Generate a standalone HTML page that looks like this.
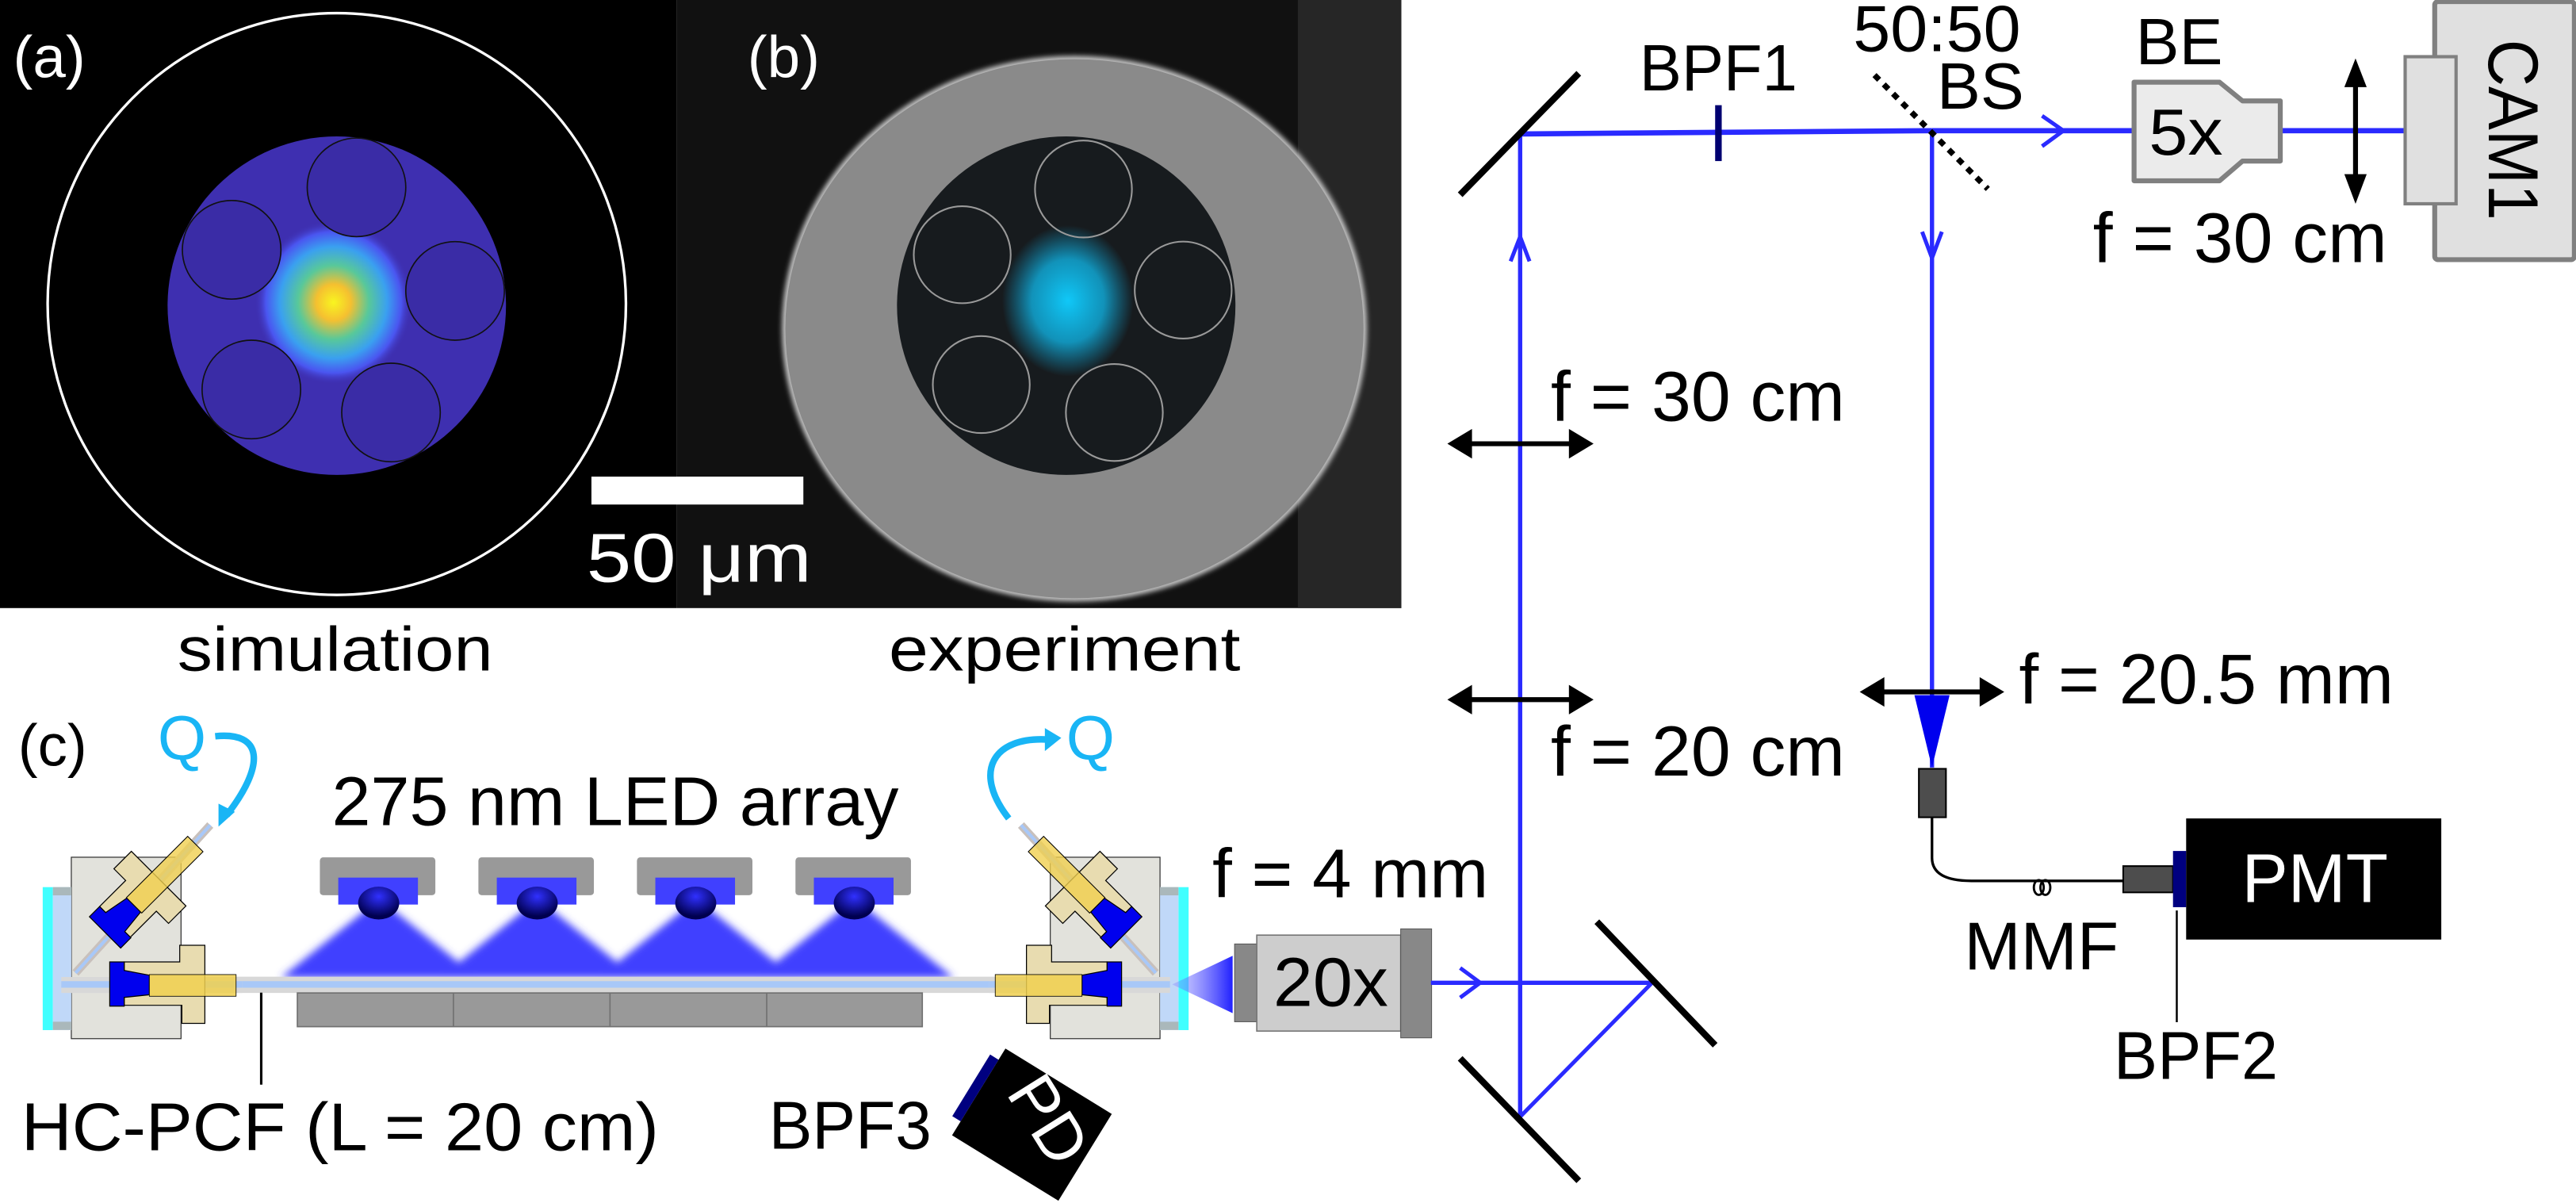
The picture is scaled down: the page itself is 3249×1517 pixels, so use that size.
<!DOCTYPE html>
<html><head><meta charset="utf-8"><style>
html,body{margin:0;padding:0;background:#fff;}
svg{display:block;}
text{font-family:"Liberation Sans",Arial,sans-serif;}
</style></head><body>
<svg width="3249" height="1517" viewBox="0 0 1568 732" preserveAspectRatio="none" xmlns="http://www.w3.org/2000/svg">
<defs>
<radialGradient id="hot" cx="0.5" cy="0.5" r="0.5">
<stop offset="0" stop-color="#f8f520"/>
<stop offset="0.22" stop-color="#f5c030"/>
<stop offset="0.45" stop-color="#58c89a"/>
<stop offset="0.68" stop-color="#3aa0f0"/>
<stop offset="0.86" stop-color="#4a55f0"/>
<stop offset="1" stop-color="#3e2fb0" stop-opacity="0"/>
</radialGradient>
<radialGradient id="cy" cx="0.5" cy="0.5" r="0.5">
<stop offset="0" stop-color="#10c8f8"/>
<stop offset="0.55" stop-color="#10b0e0" stop-opacity="0.8"/>
<stop offset="1" stop-color="#10a0d0" stop-opacity="0"/>
</radialGradient>
<radialGradient id="dome" cx="0.5" cy="0.3" r="0.6">
<stop offset="0" stop-color="#3030ff"/>
<stop offset="1" stop-color="#000050"/>
</radialGradient>
<linearGradient id="cone" x1="1" y1="0" x2="0" y2="0">
<stop offset="0" stop-color="#2020ff"/>
<stop offset="1" stop-color="#8080ff" stop-opacity="0.3"/>
</linearGradient>
<filter id="bl" x="-20%" y="-20%" width="140%" height="140%"><feGaussianBlur stdDeviation="2.5"/></filter>
<filter id="bl1" x="-20%" y="-20%" width="140%" height="140%"><feGaussianBlur stdDeviation="1.5"/></filter>
<g id="mount">
<rect x="43.4" y="521.6" width="66.8" height="110.4" fill="#e2e2dc" stroke="#333" stroke-width="0.6"/>
<rect x="26" y="539.8" width="6.2" height="87" fill="#40ffff"/>
<rect x="32.2" y="539.8" width="11.2" height="87" fill="#c0d8f8"/>
<rect x="32.2" y="539.8" width="11.2" height="5" fill="#aab8bb"/>
<rect x="32.2" y="621.7" width="11.2" height="5" fill="#aab8bb"/>
<line x1="46" y1="592" x2="128" y2="502" stroke="#c8c0bc" stroke-width="5"/>
<line x1="46" y1="592" x2="128" y2="502" stroke="#a8c8f8" stroke-width="2"/>
<g transform="translate(63.9,567.3) rotate(-45) translate(-66.8,-598.7)">
<polygon points="75.6,585.3 98,585.3 98,575.2 113,575.2 113,622.2 98,622.2 98,611.7 75.6,611.7" fill="#e8dcb0" stroke="#000" stroke-width="0.6"/>
<polygon points="66.8,585.3 75.6,585.3 75.6,590.5 90.9,593.4 90.9,605.3 75.6,606.9 75.6,612.2 66.8,612.2" fill="#0000ee" stroke="#000" stroke-width="0.6"/>
<rect x="90.9" y="593" width="52.8" height="13.2" fill="#f0d050" fill-opacity="0.8" stroke="#000" stroke-width="0.5"/>
</g>
<rect x="37.3" y="594.5" width="110" height="9.7" fill="#d8d8d8"/>
<rect x="37.3" y="597" width="110" height="4" fill="#a8c8f8"/>
<polygon points="75.6,585.3 109.4,585.3 109.4,575.2 124.7,575.2 124.7,622.7 110.7,622.7 110.7,611.7 75.6,611.7" fill="#e8dcb0" stroke="#000" stroke-width="0.6"/>
<polygon points="66.8,585.3 75.6,585.3 75.6,590.5 90.9,593.4 90.9,605.3 75.6,606.9 75.6,612.2 66.8,612.2" fill="#0000ee" stroke="#000" stroke-width="0.6"/>
<rect x="90.9" y="593" width="52.8" height="13.2" fill="#f0d050" fill-opacity="0.85" stroke="#000" stroke-width="0.4"/>
</g>
</defs>

<!-- panel a -->
<rect x="0" y="0" width="412" height="370" fill="#000"/>
<ellipse cx="205" cy="185" rx="176" ry="177" fill="none" stroke="#fff" stroke-width="1.6"/>
<circle cx="205" cy="186" r="103" fill="#3e2fb0"/>
<ellipse cx="203" cy="184" rx="48" ry="50" fill="url(#hot)"/>
<g fill="#3a2ca6" stroke="#111" stroke-width="0.8">
<circle cx="217" cy="114" r="30"/>
<circle cx="141" cy="152" r="30"/>
<circle cx="277" cy="177" r="30"/>
<circle cx="153" cy="237" r="30"/>
<circle cx="238" cy="251" r="30"/>
</g>
<text x="8" y="47" font-size="36" fill="#fff">(a)</text>

<!-- panel b -->
<rect x="412" y="0" width="441" height="370" fill="#111"/>
<rect x="790" y="0" width="63" height="370" fill="#262626"/>
<ellipse cx="654" cy="200" rx="178" ry="166" fill="#c8c8c8" filter="url(#bl1)"/>
<ellipse cx="654" cy="200" rx="176" ry="164" fill="#8a8a8a"/>
<ellipse cx="649" cy="186" rx="103" ry="103" fill="#171b1e"/>
<ellipse cx="650" cy="183" rx="40" ry="46" fill="url(#cy)"/>
<g fill="none" stroke="#9a9a9a" stroke-width="1">
<circle cx="659.5" cy="115" r="29.5"/>
<circle cx="585.7" cy="155" r="29.5"/>
<circle cx="720.2" cy="176.5" r="29.5"/>
<circle cx="597.3" cy="234" r="29.5"/>
<circle cx="678.3" cy="251" r="29.5"/>
</g>
<text x="455" y="47" font-size="36" fill="#fff">(b)</text>
<rect x="360" y="290" width="129" height="17" fill="#fff"/>
<text x="357" y="354" font-size="42" fill="#fff" textLength="137" lengthAdjust="spacingAndGlyphs">50 μm</text>

<text x="108" y="408" font-size="38" textLength="192" lengthAdjust="spacingAndGlyphs">simulation</text>
<text x="541" y="408" font-size="38" textLength="214" lengthAdjust="spacingAndGlyphs">experiment</text>

<!-- panel c -->
<text x="11" y="466" font-size="36">(c)</text>
<text x="96" y="462" font-size="38" fill="#19b5f5">Q</text>
<text x="649" y="462" font-size="38" fill="#19b5f5">Q</text>
<path d="M131,448 C160,445 162,465 138,496" fill="none" stroke="#19b5f5" stroke-width="4"/>
<polygon points="133,503 133,489 143,494" fill="#19b5f5"/>
<path d="M614,498 C592,470 604,448 638,450" fill="none" stroke="#19b5f5" stroke-width="4"/>
<polygon points="646,449 636,443 636,457" fill="#19b5f5"/>
<text x="202" y="502" font-size="42" textLength="345" lengthAdjust="spacingAndGlyphs">275 nm LED array</text>

<!-- LED cones -->
<g filter="url(#bl)" fill="#4040ff">
<polygon points="231,547 171,595 291,595"/>
<polygon points="327.5,547 267.5,595 387.5,595"/>
<polygon points="424,547 364,595 484,595"/>
<polygon points="520.5,547 460.5,595 580.5,595"/>
</g>
<g>
<rect x="194.7" y="521.7" width="70.3" height="23" rx="2" fill="#999"/>
<rect x="205.9" y="534" width="48.5" height="16.4" fill="#4040ff"/>
<ellipse cx="230.5" cy="549.5" rx="12.5" ry="10" fill="url(#dome)"/>
<rect x="291.2" y="521.7" width="70.3" height="23" rx="2" fill="#999"/>
<rect x="302.4" y="534" width="48.5" height="16.4" fill="#4040ff"/>
<ellipse cx="327" cy="549.5" rx="12.5" ry="10" fill="url(#dome)"/>
<rect x="387.7" y="521.7" width="70.3" height="23" rx="2" fill="#999"/>
<rect x="398.9" y="534" width="48.5" height="16.4" fill="#4040ff"/>
<ellipse cx="423.5" cy="549.5" rx="12.5" ry="10" fill="url(#dome)"/>
<rect x="484.2" y="521.7" width="70.3" height="23" rx="2" fill="#999"/>
<rect x="495.4" y="534" width="48.5" height="16.4" fill="#4040ff"/>
<ellipse cx="520" cy="549.5" rx="12.5" ry="10" fill="url(#dome)"/>
</g>
<!-- fiber -->
<rect x="38" y="594.3" width="672" height="9.9" fill="#d8d8d8"/>
<rect x="38" y="597" width="672" height="4" fill="#a8c8f8"/>
<rect x="181" y="604.2" width="380.4" height="20.5" fill="#999" stroke="#707070" stroke-width="0.8"/>
<g stroke="#707070" stroke-width="0.8"><line x1="276" y1="604.2" x2="276" y2="624.7"/><line x1="371.3" y1="604.2" x2="371.3" y2="624.7"/><line x1="466.7" y1="604.2" x2="466.7" y2="624.7"/></g>
<use href="#mount"/>
<use href="#mount" transform="translate(749.5,0) scale(-1,1)"/>
<line x1="159" y1="604" x2="159" y2="660" stroke="#000" stroke-width="1.5"/>
<text x="13" y="700" font-size="41" textLength="388" lengthAdjust="spacingAndGlyphs">HC-PCF (L = 20 cm)</text>

<!-- objective -->
<polygon points="750.3,581.6 750.3,616.5 713.5,599" fill="url(#cone)"/>
<rect x="751.5" y="574.4" width="13.5" height="47.3" fill="#888" stroke="#555" stroke-width="0.5"/>
<rect x="765" y="569" width="87.6" height="58.4" fill="#cdcdcd" stroke="#777" stroke-width="0.8"/>
<rect x="852.6" y="565.2" width="18.8" height="66.3" fill="#888" stroke="#555" stroke-width="0.5"/>
<text x="775" y="612" font-size="42" textLength="70" lengthAdjust="spacingAndGlyphs">20x</text>
<text x="738" y="546" font-size="42" textLength="168" lengthAdjust="spacingAndGlyphs">f = 4 mm</text>

<!-- PD -->
<g transform="translate(612,638) rotate(31.6)">
<rect x="0" y="0" width="76" height="62" fill="#000"/>
<rect x="-6" y="8" width="6" height="44" fill="#000080"/>
</g>
<text x="0" y="0" font-size="40" fill="#fff" transform="translate(612,665) rotate(58)">PD</text>
<text x="468" y="699" font-size="41" textLength="99" lengthAdjust="spacingAndGlyphs">BPF3</text>

<!-- beams -->
<g stroke="#2a2aff" fill="none">
<line x1="871" y1="598" x2="1005.6" y2="598" stroke-width="2.6"/>
<line x1="1005.6" y1="598" x2="925.3" y2="679.5" stroke-width="2.4"/>
<line x1="925.3" y1="679.5" x2="925.3" y2="81" stroke-width="2.6"/>
<line x1="925.3" y1="81.5" x2="1176" y2="79.5" stroke-width="3.2"/>
<line x1="1176" y1="79.5" x2="1464" y2="79.5" stroke-width="3.2"/>
<line x1="1176" y1="80" x2="1176" y2="467" stroke-width="2.6"/>
<polyline points="888.8,589 901,598 888.8,607" stroke-width="2.4"/>
<polyline points="919.5,159 925.3,144 931,159" stroke-width="2.4"/>
<polyline points="1170,141 1176,157 1182,141" stroke-width="2.4"/>
<polyline points="1243,70.5 1256,79.5 1243,89" stroke-width="2.4"/>
</g>
<polygon points="1165.3,423 1186.7,423 1176,467" fill="#0000ee"/>

<!-- mirrors -->
<g stroke="#000" stroke-width="4">
<line x1="888.8" y1="118.5" x2="961" y2="44.6"/>
<line x1="972" y1="560.8" x2="1044" y2="636"/>
<line x1="888.8" y1="644" x2="961" y2="718.5"/>
</g>
<!-- BPF1 -->
<rect x="1044" y="64" width="4" height="34" fill="#000070"/>
<!-- BS -->
<line x1="1141" y1="45.7" x2="1210" y2="115" stroke="#000" stroke-width="3.5" stroke-dasharray="4,4"/>
<text x="998" y="55" font-size="40" textLength="96" lengthAdjust="spacingAndGlyphs">BPF1</text>
<text x="1128" y="31" font-size="40" textLength="102" lengthAdjust="spacingAndGlyphs">50:50</text>
<text x="1179" y="66" font-size="40" textLength="53" lengthAdjust="spacingAndGlyphs">BS</text>
<text x="1300" y="39" font-size="40" textLength="53" lengthAdjust="spacingAndGlyphs">BE</text>
<polygon points="1299,50 1351,50 1365,61.4 1388,61.4 1388,98 1365,98 1351,110 1299,110" fill="#ebebeb" stroke="#808080" stroke-width="3" stroke-linejoin="round"/>
<text x="1308" y="94" font-size="40" textLength="45" lengthAdjust="spacingAndGlyphs">5x</text>

<!-- lenses -->
<g stroke="#000" stroke-width="3" fill="#000">
<line x1="1433.8" y1="44" x2="1433.8" y2="116"/>
<polygon points="1433.8,35.5 1427,53 1440.6,53" stroke="none"/>
<polygon points="1433.8,124 1427,106 1440.6,106" stroke="none"/>
<line x1="889" y1="270" x2="962" y2="270"/>
<polygon points="881,270 896,261 896,279" stroke="none"/>
<polygon points="970,270 955,261 955,279" stroke="none"/>
<line x1="889" y1="425.7" x2="962" y2="425.7"/>
<polygon points="881,425.7 896,416.7 896,434.7" stroke="none"/>
<polygon points="970,425.7 955,416.7 955,434.7" stroke="none"/>
<line x1="1140" y1="421" x2="1212" y2="421"/>
<polygon points="1132,421 1147,412 1147,430" stroke="none"/>
<polygon points="1220,421 1205,412 1205,430" stroke="none"/>
</g>

<!-- CAM1 -->
<rect x="1482" y="1" width="85" height="157" fill="#e0e0e0" stroke="#808080" stroke-width="3" rx="2"/>
<rect x="1464" y="34.5" width="31" height="89.5" fill="#e0e0e0" stroke="#808080" stroke-width="2"/>
<text x="0" y="0" font-size="43" transform="translate(1515,24) rotate(90)" textLength="110" lengthAdjust="spacingAndGlyphs">CAM1</text>
<text x="1274" y="159.5" font-size="43" textLength="179" lengthAdjust="spacingAndGlyphs">f = 30 cm</text>
<text x="944" y="256" font-size="43" textLength="179" lengthAdjust="spacingAndGlyphs">f = 30 cm</text>
<text x="944" y="472" font-size="43" textLength="179" lengthAdjust="spacingAndGlyphs">f = 20 cm</text>
<text x="1229" y="428" font-size="43" textLength="228" lengthAdjust="spacingAndGlyphs">f = 20.5 mm</text>

<!-- fiber to PMT -->
<rect x="1168" y="467.8" width="16.5" height="29.5" fill="#4d4d4d" stroke="#000" stroke-width="1"/>
<path d="M1176,497 L1176,522 Q1176,536 1200,536 L1292.4,536" fill="none" stroke="#000" stroke-width="1.6"/>
<ellipse cx="1241" cy="540" rx="3" ry="4.5" fill="none" stroke="#000" stroke-width="1.4"/>
<ellipse cx="1245" cy="540" rx="3" ry="4.5" fill="none" stroke="#000" stroke-width="1.4"/>
<rect x="1292.4" y="527" width="30.3" height="16" fill="#4d4d4d" stroke="#000" stroke-width="1"/>
<rect x="1322.7" y="517.8" width="8" height="34.2" fill="#000080"/>
<rect x="1330.7" y="498" width="155.3" height="73.7" fill="#000"/>
<text x="1364.6" y="549" font-size="42" fill="#fff" textLength="89" lengthAdjust="spacingAndGlyphs">PMT</text>
<text x="1195.6" y="590" font-size="41" textLength="94" lengthAdjust="spacingAndGlyphs">MMF</text>
<line x1="1325" y1="554" x2="1325" y2="622" stroke="#000" stroke-width="1.2"/>
<text x="1286.6" y="656.6" font-size="41" textLength="100" lengthAdjust="spacingAndGlyphs">BPF2</text>
</svg>
</body></html>
